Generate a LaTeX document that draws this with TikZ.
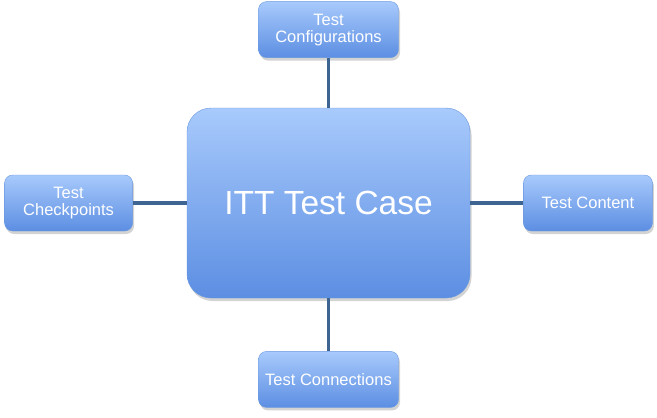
\documentclass[tikz,border=0pt]{standalone}
\usepackage{fontspec}
\setmainfont{Liberation Sans}
\usetikzlibrary{positioning,shadows}
\definecolor{boxtop}{HTML}{A8CAFC}
\definecolor{boxbottom}{HTML}{5C8EE2}
\definecolor{boxedge}{HTML}{6A98E0}
\definecolor{linkblue}{HTML}{3E6592}
\tikzset{
    %Define style for the center box
    casebox/.style={
           rectangle,
           rounded corners=24pt,
           draw=boxedge, thin,
           top color=boxtop,
           bottom color=boxbottom,
           minimum width=283pt,
           minimum height=190pt,
           font=\fontsize{33.5}{40}\selectfont,
           text=white,
           drop shadow={shadow xshift=1.5pt, shadow yshift=-3pt, opacity=0.35}
           },
    %Define style for the outer boxes
    partbox/.style={
           rectangle,
           rounded corners=8pt,
           draw=boxedge, thin,
           top color=boxtop,
           bottom color=boxbottom,
           minimum height=56pt,
           font=\fontsize{16.5}{17}\selectfont,
           text=white,
           align=center,
           drop shadow={shadow xshift=1.5pt, shadow yshift=-3pt, opacity=0.35}
           },
    % Define connector style
    link/.style={
           draw=linkblue,
           line width=3.5pt}
}
\begin{document}
\begin{tikzpicture}[x=1pt,y=1pt,node distance=53pt]
\useasboundingbox (0,0) rectangle (657,-418);
\node[casebox](case) at (328.5,-203){ITT Test Case};
\node[partbox, minimum width=140pt, above=50pt of case](config){Test\\Configurations};
\node[partbox, minimum width=128pt, left=54pt of case](check){Test\\Checkpoints};
\node[partbox, minimum width=129pt, right=of case](content){Test Content};
\node[partbox, minimum width=140pt, below=of case](conn){Test Connections};
\path[link]
	(case) edge (config)
	(case) edge (check)
	(case) edge (content)
	(case) edge (conn);
\end{tikzpicture}
\end{document}
